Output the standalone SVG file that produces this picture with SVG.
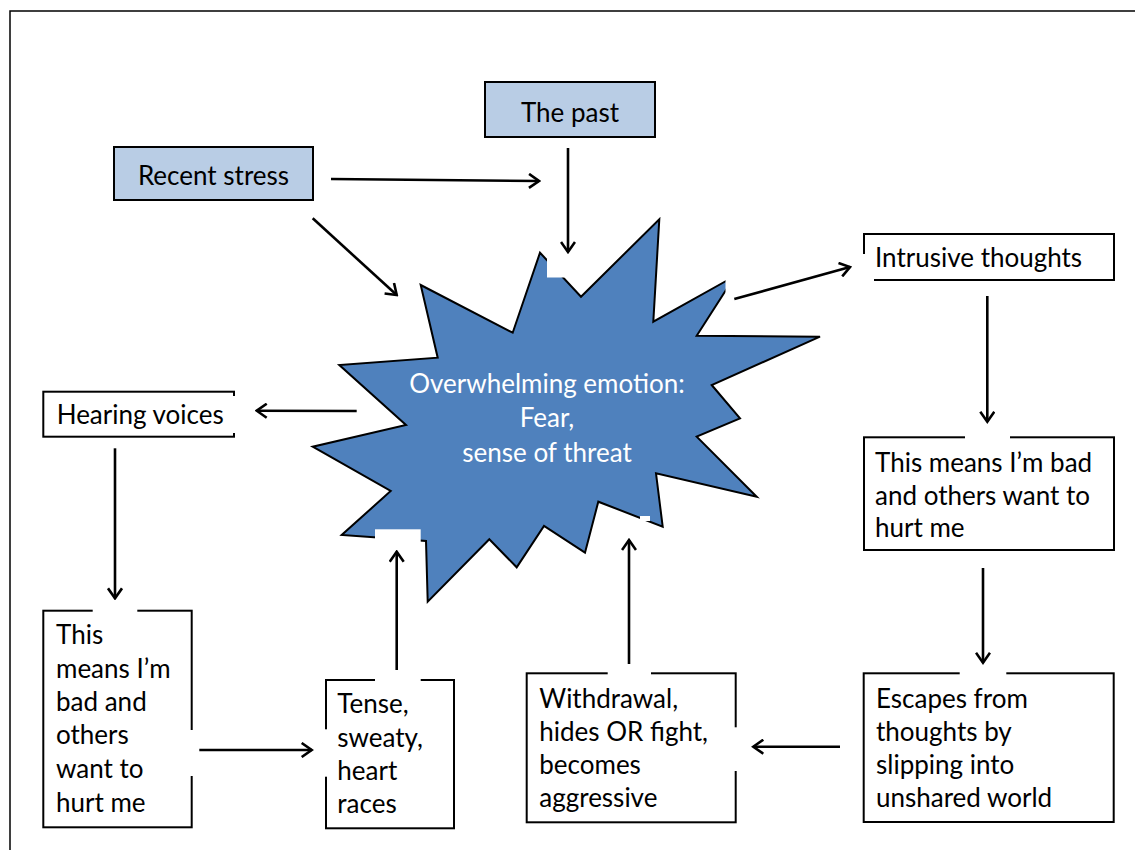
<svg xmlns="http://www.w3.org/2000/svg" width="1135" height="850" viewBox="0 0 1135 850">
<defs>
<marker id="arr" viewBox="-12 -8 14 16" refX="0" refY="0" markerWidth="14" markerHeight="16" markerUnits="userSpaceOnUse" orient="auto">
<path d="M-10,-7 L0,0 L-10,7" fill="none" stroke="#000" stroke-width="2.6" stroke-linejoin="miter"/>
</marker>
</defs>
<style>
text{font-family:Lato,"Liberation Sans",sans-serif;font-size:26px;fill:#000}
.blue{fill:#b9cde5;stroke:#000;stroke-width:2}
.box{fill:#fff;stroke:#000;stroke-width:2}
.gap{fill:#fff;stroke:none}
.c line{stroke:#000;stroke-width:2.6;marker-end:url(#arr)}
.w{fill:#fff}
</style>
<rect x="10" y="11" width="1140" height="850" fill="#fff" stroke="#000" stroke-width="1.5"/>

<g id="burst">
<polygon points="420.7,285 512.7,332.7 540,252.7 581,296.7 659.3,219.3 653.3,321.7 735,276 696.7,335.7 820,336.7 711.7,385 740,418.3 696.7,436.7 756.7,496.7 656,473.3 662.7,526.7 598.3,501.7 585,552.7 544,526 516.7,567.3 489.3,539.3 427.7,601.7 426,541 341.7,535 390.7,491 312.7,446.7 406,425 339.3,365 437.7,357.7" fill="#4f81bd" stroke="#000" stroke-width="2" stroke-linejoin="miter"/>
<rect class="gap" x="547" y="250" width="18" height="27.5"/>
<rect class="gap" x="725.5" y="268" width="15" height="27"/>
<rect class="gap" x="375" y="529.3" width="45.7" height="13.4"/>
<rect class="gap" x="640" y="516" width="10" height="5"/>
<text class="w" x="547" y="393.3" text-anchor="middle">Overwhelming emotion:</text>
<text class="w" x="547" y="427" text-anchor="middle">Fear,</text>
<text class="w" x="547" y="461.7" text-anchor="middle">sense of threat</text>
</g>

<g id="recent">
<rect class="blue" x="114" y="147" width="199" height="53"/>
<text x="213.5" y="184.5" text-anchor="middle">Recent stress</text>
</g>

<g id="past">
<rect class="blue" x="485" y="82" width="170" height="55"/>
<text x="570" y="121.5" text-anchor="middle">The past</text>
</g>

<g id="intrusive">
<rect class="box" x="864" y="234" width="250" height="46"/>
<rect class="gap" x="860" y="254" width="14" height="30"/>
<text x="875" y="267">Intrusive thoughts</text>
</g>

<g id="bad-right">
<rect class="box" x="864" y="437.3" width="250" height="112.7"/>
<rect class="gap" x="965" y="433" width="45" height="8"/>
<text x="875" y="471.7">This means I’m bad</text>
<text x="875" y="505">and others want to</text>
<text x="875" y="537.3">hurt me</text>
</g>

<g id="escapes">
<rect class="box" x="863.7" y="673.3" width="250" height="148.7"/>
<rect class="gap" x="959.7" y="669" width="46.6" height="8"/>
<text x="876" y="708.3">Escapes from</text>
<text x="876" y="741">thoughts by</text>
<text x="876" y="774">slipping into</text>
<text x="876" y="806.7">unshared world</text>
</g>

<g id="withdrawal">
<rect class="box" x="526.7" y="673.3" width="209" height="149"/>
<rect class="gap" x="607.7" y="669" width="43.3" height="8"/>
<rect class="gap" x="731" y="727.3" width="9" height="43.7"/>
<text x="539.3" y="708.3">Withdrawal,</text>
<text x="539.3" y="741">hides OR fight,</text>
<text x="539.3" y="774">becomes</text>
<text x="539.3" y="806.7">aggressive</text>
</g>

<g id="tense">
<rect class="box" x="326" y="680" width="128" height="148.3"/>
<rect class="gap" x="375" y="676" width="45.7" height="8"/>
<rect class="gap" x="322" y="729.3" width="8" height="47.4"/>
<text x="337.3" y="713.3">Tense,</text>
<text x="337.3" y="746.7">sweaty,</text>
<text x="337.3" y="780">heart</text>
<text x="337.3" y="812.7">races</text>
</g>

<g id="bad-left">
<rect class="box" x="43.3" y="610.7" width="148.4" height="216.6"/>
<rect class="gap" x="92.7" y="606" width="44.6" height="9"/>
<rect class="gap" x="187" y="730" width="9" height="46"/>
<text x="56" y="644.3">This</text>
<text x="56" y="677.7">means I’m</text>
<text x="56" y="711">bad and</text>
<text x="56" y="744.3">others</text>
<text x="56" y="777.7">want to</text>
<text x="56" y="811.7">hurt me</text>
</g>

<g id="hearing">
<rect class="box" x="43.3" y="391.7" width="190.7" height="45"/>
<rect class="gap" x="230" y="396" width="8" height="37"/>
<text x="56.7" y="424.3">Hearing voices</text>
</g>

<g id="connectors" class="c">
<line x1="331" y1="179" x2="539" y2="181"/>
<line x1="312.7" y1="218.3" x2="396.7" y2="295"/>
<line x1="568" y1="148" x2="568" y2="252"/>
<line x1="734.3" y1="299" x2="850" y2="267"/>
<line x1="987.3" y1="296" x2="987.3" y2="421.7"/>
<line x1="983" y1="568" x2="983" y2="662.7"/>
<line x1="840" y1="746.7" x2="753.3" y2="746.7"/>
<line x1="629" y1="664" x2="629" y2="540"/>
<line x1="396.7" y1="670" x2="396.7" y2="551.7"/>
<line x1="199.3" y1="750" x2="311.7" y2="750"/>
<line x1="115" y1="448.3" x2="115" y2="598.3"/>
<line x1="356.7" y1="411" x2="256.7" y2="410.7"/>
</g>
</svg>
